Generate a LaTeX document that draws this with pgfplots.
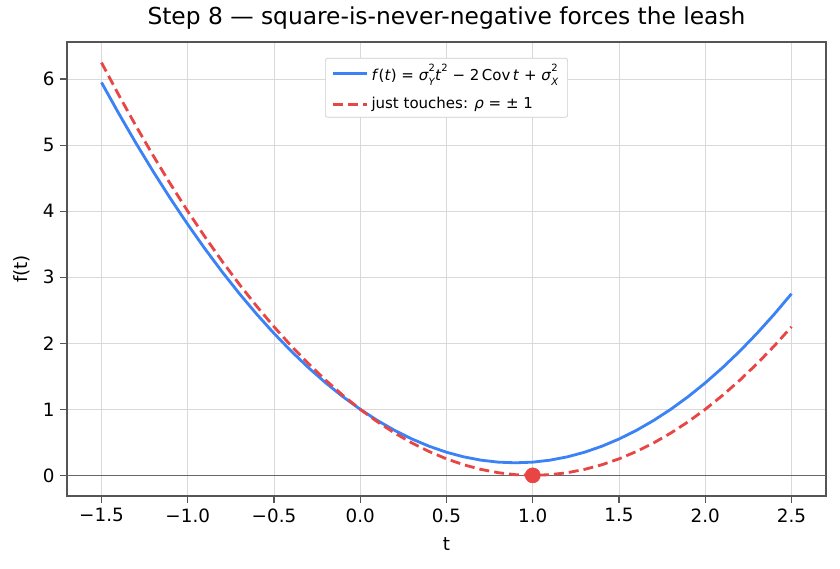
\documentclass[border=0pt]{standalone}
\usepackage{pgfplots}
\pgfplotsset{compat=1.18}
\usepackage{fontspec}
\setmainfont{DejaVu Sans}
\definecolor{cblue}{HTML}{3B82F6}
\definecolor{cred}{HTML}{E84545}
\definecolor{frame}{HTML}{555555}
\newcommand{\sxy}[2]{\textit{σ}\rlap{\raisebox{-0.7ex}{\fontsize{6}{6}\selectfont\textit{#2}}}\raisebox{1.05ex}{\fontsize{6}{6}\selectfont #1}}
\begin{document}
\begin{tikzpicture}
\path[use as bounding box] (-40.2pt,-43.8pt) rectangle (463.8pt,297.6pt);
\begin{axis}[
  scale only axis, width=455.4pt, height=272.4pt,
  xmin=-1.7, xmax=2.7, ymin=-0.3125, ymax=6.5625,
  xtick={-1.5,-1,-0.5,0,0.5,1,1.5,2,2.5},
  xticklabels={−1.5,−1.0,−0.5,0.0,0.5,1.0,1.5,2.0,2.5},
  ytick={0,1,2,3,4,5,6},
  yticklabels={0,1,2,3,4,5,6},
  tick align=outside, major tick length=4pt,
  xtick pos=bottom, ytick pos=left,
  tick style={frame, line width=0.8pt},
  axis line style={frame, line width=0.8pt},
  grid=major, grid style={gray!30, line width=0.4pt},
  ticklabel style={font=\fontsize{11}{13}\selectfont},
  xlabel={t}, ylabel={f(t)},
  label style={font=\fontsize{11}{13}\selectfont},
  xlabel style={yshift=-2pt}, ylabel style={yshift=1pt},
  title={Step 8 — square-is-never-negative forces the leash},
  title style={font=\fontsize{14}{16}\selectfont, yshift=-2pt},
  legend style={at={(0.5,0.965)}, anchor=north, font=\fontsize{9}{11}\selectfont,
    draw=gray!40, rounded corners=1.5pt, row sep=5pt, inner xsep=4pt, inner ysep=1.5pt},
  legend cell align=left,
  legend image code/.code={\draw[#1] (0pt,0pt) -- (20pt,0pt);},
]
\addplot[frame!90, line width=0.8pt, forget plot] coordinates {(-1.7,0) (2.7,0)};
\addplot[cblue, line width=1.7pt] coordinates {
(-1.5,5.95) (-1.4,5.48) (-1.3,5.03) (-1.2,4.60) (-1.1,4.19) (-1.0,3.80) (-0.9,3.43) (-0.8,3.08) (-0.7,2.75) (-0.6,2.44) (-0.5,2.15) (-0.4,1.88) (-0.3,1.63) (-0.2,1.40) (-0.1,1.19) (0,1) (0.1,0.83) (0.2,0.68) (0.3,0.55) (0.4,0.44) (0.5,0.35) (0.6,0.28) (0.7,0.23) (0.8,0.20) (0.9,0.19) (1.0,0.20) (1.1,0.23) (1.2,0.28) (1.3,0.35) (1.4,0.44) (1.5,0.55) (1.6,0.68) (1.7,0.83) (1.8,1.00) (1.9,1.19) (2.0,1.40) (2.1,1.63) (2.2,1.88) (2.3,2.15) (2.4,2.44) (2.5,2.75)};
\addlegendentry{\textit{f}(\textit{t}) = \sxy{2}{Y}\textit{t}\raisebox{1.05ex}{\fontsize{6}{6}\selectfont 2} − 2\,Cov\,\textit{t} + \sxy{2}{X}}
\addplot[cred, line width=1.7pt, dash pattern=on 6pt off 3pt] coordinates {
(-1.5,6.25) (-1.4,5.76) (-1.3,5.29) (-1.2,4.84) (-1.1,4.41) (-1.0,4.00) (-0.9,3.61) (-0.8,3.24) (-0.7,2.89) (-0.6,2.56) (-0.5,2.25) (-0.4,1.96) (-0.3,1.69) (-0.2,1.44) (-0.1,1.21) (0,1) (0.1,0.81) (0.2,0.64) (0.3,0.49) (0.4,0.36) (0.5,0.25) (0.6,0.16) (0.7,0.09) (0.8,0.04) (0.9,0.01) (1.0,0) (1.1,0.01) (1.2,0.04) (1.3,0.09) (1.4,0.16) (1.5,0.25) (1.6,0.36) (1.7,0.49) (1.8,0.64) (1.9,0.81) (2.0,1.00) (2.1,1.21) (2.2,1.44) (2.3,1.69) (2.4,1.96) (2.5,2.25)};
\addlegendentry{just touches: \textit{ρ} =  ± 1}
\addplot[only marks, mark=*, mark size=4.5pt, cred, forget plot] coordinates {(1,0)};
\end{axis}
\end{tikzpicture}
\end{document}
